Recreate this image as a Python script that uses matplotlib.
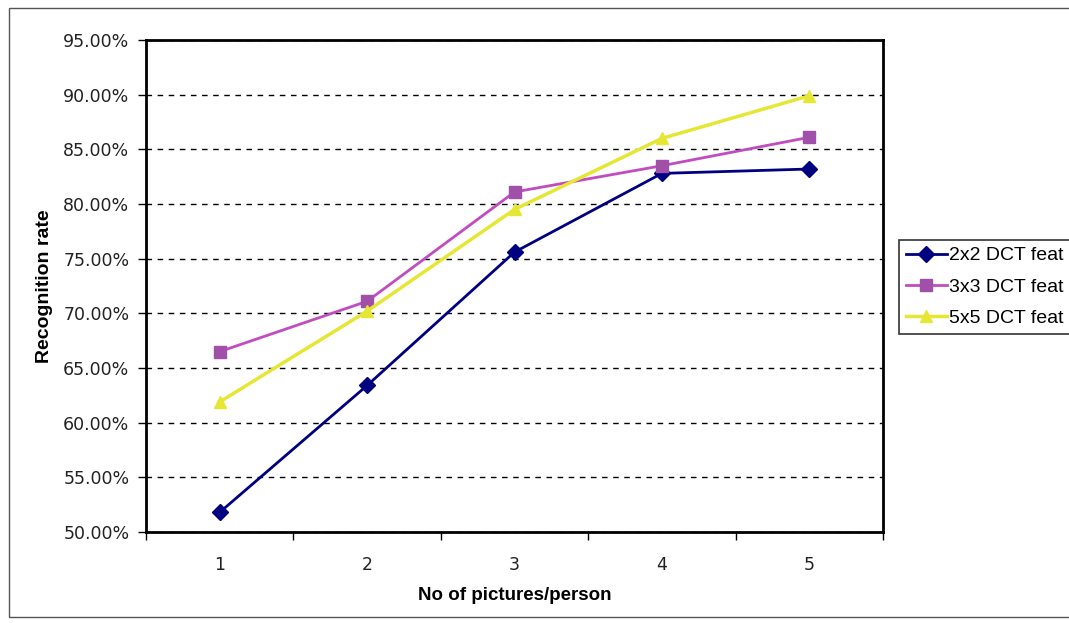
import numpy as np
import matplotlib.pyplot as plt
from matplotlib.patches import Rectangle

plt.rcParams['font.family'] = ['DejaVu Sans']

pictures = [1, 2, 3, 4, 5]
feat_2x2 = [51.8, 63.4, 75.6, 82.8, 83.2]
feat_3x3 = [66.5, 71.1, 81.1, 83.5, 86.1]
feat_5x5 = [61.9, 70.2, 79.5, 86.0, 89.9]
names = ['2x2 DCT feat', '3x3 DCT feat', '5x5 DCT feat']
yticks = np.arange(50, 96, 5)

fig = plt.figure(figsize=(10.69, 6.23), dpi=100)
# outer frame (right side runs off the picture like in the scan)
fig.patches.append(Rectangle((9/1069, 6/623), 1070/1069, 609/623, transform=fig.transFigure,
                             fill=False, edgecolor='#555555', linewidth=1))
ax = fig.add_axes([146/1069, 91/623, 737/1069, 492/623])

ax.plot(pictures, feat_2x2, color='#000080', marker='D', markersize=8, linewidth=2, label=names[0])
ax.plot(pictures, feat_3x3, color='#C04CC0', marker='s', markersize=9, markerfacecolor='#A050A8',
        markeredgecolor='#A050A8', linewidth=2, label=names[1])
ax.plot(pictures, feat_5x5, color='#E6E635', marker='^', markersize=9, linewidth=2.5, label=names[2])

ax.set_xlim(0.5, 5.5)
ax.set_ylim(50, 95)
ax.set_yticks(yticks)
ax.set_yticklabels(['%.2f%%' % v for v in yticks])
ax.set_xticks(pictures)
ax.set_xticks(np.arange(0.5, 5.6, 1), minor=True)
ax.tick_params(axis='x', which='major', length=0, pad=17, labelsize=12.5, labelcolor='#222222')
ax.tick_params(axis='x', which='minor', length=6, width=1, direction='out')
ax.tick_params(axis='y', length=6, width=1, direction='out', labelsize=12.5, pad=6, labelcolor='#222222')
for s in ax.spines.values():
    s.set_linewidth(2)
ax.yaxis.grid(True, linestyle=(0, (4, 4)), color='black', linewidth=1)
ax.set_axisbelow(True)

ax.set_xlabel('No of pictures/person', fontweight='bold', fontsize=13.5, labelpad=10,
              family=['Liberation Sans'])
ax.set_ylabel('Recognition rate', fontweight='bold', fontsize=14, labelpad=7,
              family=['Liberation Sans'])

leg = ax.legend(loc='upper left', bbox_to_anchor=(899/1069, 1-240/623), bbox_transform=fig.transFigure,
                prop={'family': 'Liberation Sans', 'size': 14}, frameon=True, fancybox=False,
                edgecolor='black', borderpad=0.35, handlelength=2.1, handletextpad=0.1,
                labelspacing=0.7, borderaxespad=0)
leg.get_frame().set_linewidth(1.2)

fig.savefig('out.png', dpi=100)
